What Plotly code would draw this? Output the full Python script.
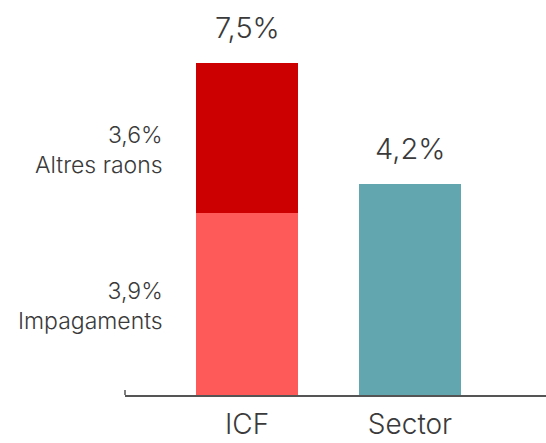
import plotly.graph_objects as go

categories = ["ICF", "Sector"]
# bar heights (percentage points)
impagaments = [3.62, None]
altres_raons = [2.99, None]
sector = [None, 4.2]
# printed labels
total_labels = ["7,5%", "4,2%"]
impagaments_label = "3,9%<br>Impagaments"
altres_label = "3,6%<br>Altres raons"

xpos = [0, 1]
font_family = "Inter"
text_color = "#3a3a3a"

fig = go.Figure()
fig.add_trace(go.Bar(x=xpos, y=impagaments, marker_color="#FF5A5A", width=0.626,
                     marker_line_width=0, hoverinfo="skip"))
fig.add_trace(go.Bar(x=xpos, y=altres_raons, marker_color="#CC0000", width=0.626,
                     marker_line_width=0, hoverinfo="skip"))
fig.add_trace(go.Bar(x=xpos, y=sector, marker_color="#62A6AF", width=0.626,
                     marker_line_width=0, hoverinfo="skip"))

icf_total = impagaments[0] + altres_raons[0]
totals = [icf_total, sector[1]]
for xi, tv, lab in zip(xpos, totals, total_labels):
    fig.add_annotation(x=xi, y=tv, text=lab, showarrow=False, xanchor="center",
                       yanchor="bottom", yshift=16,
                       font=dict(family=font_family, size=29, color=text_color, weight=300))

label_font = dict(family=font_family, size=23, color=text_color, weight=300)
fig.add_annotation(x=-0.505, y=impagaments[0] / 2, text=impagaments_label, showarrow=False,
                   xanchor="right", yanchor="middle", align="right", yshift=-2,
                   font=label_font)
fig.add_annotation(x=-0.505, y=impagaments[0] + altres_raons[0] / 2, text=altres_label,
                   showarrow=False, xanchor="right", yanchor="middle", align="right",
                   yshift=-12, font=label_font)

fig.add_shape(type="line", xref="paper", yref="paper", x0=0, x1=0,
              ysizemode="pixel", yanchor=0, y0=0, y1=5,
              line=dict(color="#555555", width=1.5))

fig.update_layout(
    barmode="stack",
    width=546, height=443,
    margin=dict(l=125, r=0, t=0, b=48),
    paper_bgcolor="white", plot_bgcolor="white",
    showlegend=False,
    xaxis=dict(range=[-0.7485, 1.8344], tickvals=xpos, ticktext=categories,
               showline=True, linecolor="#555555", linewidth=1.5, showgrid=False,
               zeroline=False, ticks="", fixedrange=True, ticklabelstandoff=4,
               automargin=False,
               tickfont=dict(family=font_family, size=28, color=text_color, weight=300)),
    yaxis=dict(range=[0, 7.862], visible=False, showgrid=False, zeroline=False,
               fixedrange=True, automargin=False),
)

fig.write_html("out.html", config={"displayModeBar": False},
               post_script="document.body.style.margin='0';")
